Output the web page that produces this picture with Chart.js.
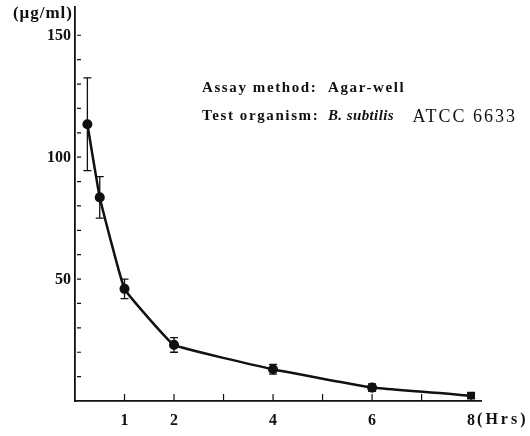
<!DOCTYPE html>
<html>
<head>
<meta charset="utf-8">
<script src="https://cdn.jsdelivr.net/npm/chart.js"></script>
<style>
  body { margin: 0; background: #fff; }
  canvas { display: block; }
</style>
</head>
<body>
<canvas id="concChart" width="530" height="436"></canvas>
<script>
// time after dosing (hours) and concentration (ug/ml)
var hours = [0.25, 0.5, 1, 2, 4, 6, 8];
var conc = [113.5, 83.5, 46, 23, 13, 5.5, 2.2];
var errs = [19, 8.5, 4, 3, 2, 1.5, 1];

var xTicks = [1, 2, 3, 4, 5, 6, 7, 8];
var xLabels = [1, 2, 4, 6, 8];
var yLabels = [50, 100, 150];
var yMinor = [10, 20, 30, 40, 50, 60, 70, 80, 90, 100, 110, 120, 130, 140, 150];

var ink = "#111";
var serif = "'Liberation Serif', 'DejaVu Serif', serif";

var points = [];
for (let i = 0; i < hours.length; i++) {
  points.push({ x: hours[i], y: conc[i] });
}

// error bars, inward ticks, y labels and the text notes
var extras = {
  id: "extras",
  afterDatasetsDraw(chart) {
    var ctx = chart.ctx;
    var xs = chart.scales.x;
    var ys = chart.scales.y;
    ctx.save();
    ctx.strokeStyle = ink;
    ctx.lineWidth = 1.3;
    for (let i = 0; i < hours.length; i++) {
      var px = xs.getPixelForValue(hours[i]);
      var top = ys.getPixelForValue(conc[i] + errs[i]);
      var bot = ys.getPixelForValue(conc[i] - errs[i]);
      ctx.beginPath();
      ctx.moveTo(px, top); ctx.lineTo(px, bot);
      ctx.moveTo(px - 4, top); ctx.lineTo(px + 4, top);
      ctx.moveTo(px - 4, bot); ctx.lineTo(px + 4, bot);
      ctx.stroke();
    }
    // ticks point into the plot
    var base = ys.getPixelForValue(0);
    var left = xs.getPixelForValue(0);
    ctx.lineWidth = 1.2;
    ctx.beginPath();
    xTicks.forEach(v => {
      var px = xs.getPixelForValue(v);
      ctx.moveTo(px, base); ctx.lineTo(px, base - 7);
    });
    yMinor.forEach(v => {
      var py = ys.getPixelForValue(v);
      ctx.moveTo(left + 2, py); ctx.lineTo(left + 6, py);
    });
    ctx.stroke();

    ctx.fillStyle = ink;
    ctx.textBaseline = "middle";
    ctx.textAlign = "right";
    ctx.font = "bold 16px " + serif;
    yLabels.forEach(v => {
      ctx.fillText(String(v), left - 4, ys.getPixelForValue(v) + 1);
    });
    ctx.font = "bold 17px " + serif;
    ctx.letterSpacing = "1px";
    ctx.fillText("(\u03bcg/ml)", 73, 14);
    ctx.textAlign = "left";
    ctx.font = "bold 16px " + serif;
    ctx.letterSpacing = "3px";
    var px8 = xs.getPixelForValue(8);
    ctx.fillText("(Hrs)", px8 + 6, 420);

    // notes
    ctx.font = "bold 15px " + serif;
    ctx.letterSpacing = "1.6px";
    ctx.fillText("Assay method:  Agar-well", 202, 88);
    var tx = 202;
    var s1 = "Test organism:  ";
    ctx.fillText(s1, tx, 116);
    tx += ctx.measureText(s1).width;
    ctx.font = "italic bold 15px " + serif;
    ctx.letterSpacing = "0.4px";
    var s2 = "B. subtilis";
    ctx.fillText(s2, tx - 2, 116);
    tx += ctx.measureText(s2).width;
    ctx.font = "18px " + serif;
    ctx.letterSpacing = "2px";
    ctx.fillText(" ATCC 6633", tx + 10, 117);
    ctx.restore();
  }
};

new Chart(document.getElementById("concChart"), {
  type: "line",
  data: {
    datasets: [{
      data: points,
      borderColor: ink,
      backgroundColor: ink,
      borderWidth: 2.5,
      pointRadius: 3.8,
      pointStyle: ["circle", "circle", "circle", "circle", "circle", "circle", "rect"],
      tension: 0.08
    }]
  },
  options: {
    responsive: false,
    animation: false,
    layout: { padding: { top: 5, right: 49, left: 0, bottom: 0 } },
    plugins: { legend: { display: false }, tooltip: { enabled: false } },
    scales: {
      x: {
        type: "linear",
        min: 0,
        max: 8.2,
        afterBuildTicks: s => { s.ticks = xTicks.map(v => ({ value: v })); },
        afterFit: s => { s.height = 35; },
        grid: { display: false, drawTicks: false },
        border: { display: true, color: ink, width: 1.8 },
        ticks: {
          padding: 10,
          color: ink,
          font: { family: serif, size: 16, weight: "bold" },
          callback: v => xLabels.includes(v) ? String(v) : ""
        }
      },
      y: {
        min: 0,
        max: 161.8,
        afterFit: s => { s.width = 75; },
        grid: { display: false, drawTicks: false },
        border: { display: true, color: ink, width: 1.8 },
        ticks: { display: false }
      }
    }
  },
  plugins: [extras]
});
</script>
</body>
</html>
